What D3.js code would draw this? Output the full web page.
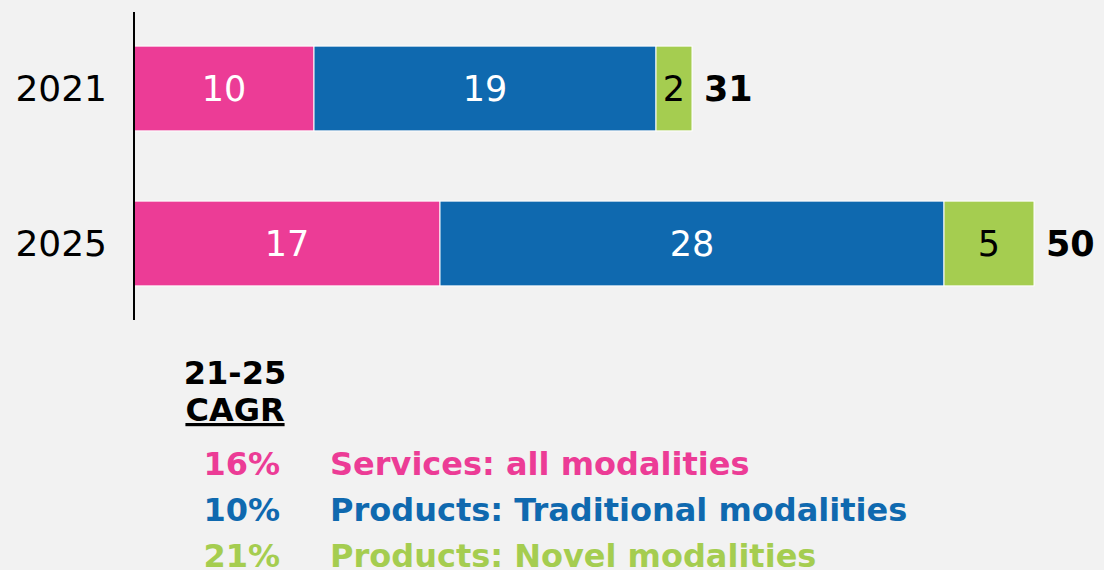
<!DOCTYPE html>
<html>
<head>
<meta charset="utf-8">
<script src="https://cdn.jsdelivr.net/npm/d3@7"></script>
<style>
  html, body { margin: 0; padding: 0; background: #f2f2f2; }
  svg { display: block; }
</style>
</head>
<body>
<svg id="chart" width="1104" height="570"></svg>
<script>
// Market size by year, stacked by segment
const years = ["2021", "2025"];
const seriesNames = ["Services: all modalities", "Products: Traditional modalities", "Products: Novel modalities"];
const services = [10, 17];
const traditional = [19, 28];
const novel = [2, 5];
const cagr = ["16%", "10%", "21%"];
const colors = ["#ec3c96", "#0f69af", "#a5cd50"];
const labelColors = ["#ffffff", "#ffffff", "#000000"];

const rows = years.map((y, i) => ({ year: y, s0: services[i], s1: traditional[i], s2: novel[i] }));
const keys = ["s0", "s1", "s2"];
const stacked = d3.stack().keys(keys)(rows);

const svg = d3.select("#chart");
const font = "'DejaVu Sans', Verdana, sans-serif";

const x = d3.scaleLinear().domain([0, 50]).range([134, 1034]);
const y = d3.scaleBand().domain(years).range([12, 320]).paddingInner(0.453).paddingOuter(0.22);

// segments
stacked.forEach((layer, k) => {
  const g = svg.append("g");
  g.selectAll("rect").data(layer).join("rect")
    .attr("x", d => x(d[0]))
    .attr("y", d => y(d.data.year))
    .attr("width", d => x(d[1]) - x(d[0]))
    .attr("height", y.bandwidth())
    .attr("fill", colors[k])
    .attr("stroke", "#ffffff")
    .attr("stroke-width", 1);
  g.selectAll("text").data(layer).join("text")
    .attr("x", d => (x(d[0]) + x(d[1])) / 2)
    .attr("y", d => y(d.data.year) + y.bandwidth() / 2)
    .attr("dy", "0.36em")
    .attr("text-anchor", "middle")
    .attr("font-family", font)
    .attr("font-size", 35)
    .attr("fill", labelColors[k])
    .text(d => d[1] - d[0]);
});

// totals
svg.append("g").selectAll("text").data(rows).join("text")
  .attr("x", d => x(d.s0 + d.s1 + d.s2) + 12)
  .attr("y", d => y(d.year) + y.bandwidth() / 2)
  .attr("dy", "0.36em")
  .attr("font-family", font)
  .attr("font-weight", "bold")
  .attr("font-size", 35)
  .attr("fill", "#000")
  .text(d => d.s0 + d.s1 + d.s2);

// category axis
const yAxis = d3.axisLeft(y).tickSize(0).tickPadding(27);
const ax = svg.append("g").attr("transform", `translate(${x(0)},0)`).call(yAxis);
ax.select(".domain").attr("stroke", "#000").attr("stroke-width", 2).attr("d", "M0,12V320");
ax.selectAll("text").attr("font-family", font).attr("font-size", 36).attr("fill", "#000").attr("dy", "0.36em");

// CAGR legend
const leg = svg.append("g");
leg.append("text").attr("x", 235).attr("y", 384).attr("text-anchor", "middle")
  .attr("font-family", font).attr("font-weight", "bold").attr("font-size", 32).attr("fill", "#000")
  .text("21-25");
leg.append("text").attr("x", 235).attr("y", 421).attr("text-anchor", "middle")
  .attr("font-family", font).attr("font-weight", "bold").attr("font-size", 32).attr("fill", "#000")
  .attr("text-decoration", "underline")
  .text("CAGR");

const ly = d3.scalePoint().domain(seriesNames).range([475, 567]);
leg.selectAll("text.pct").data(seriesNames).join("text").attr("class", "pct")
  .attr("x", 280).attr("y", d => ly(d)).attr("text-anchor", "end")
  .attr("font-family", font).attr("font-weight", "bold").attr("font-size", 32)
  .attr("fill", (d, i) => colors[i])
  .text((d, i) => cagr[i]);
leg.selectAll("text.name").data(seriesNames).join("text").attr("class", "name")
  .attr("x", 330).attr("y", d => ly(d))
  .attr("font-family", font).attr("font-weight", "bold").attr("font-size", 32)
  .attr("fill", (d, i) => colors[i])
  .text(d => d);
</script>
</body>
</html>
